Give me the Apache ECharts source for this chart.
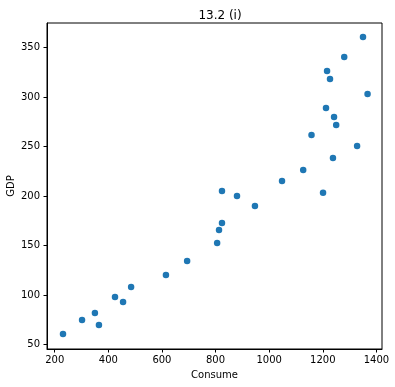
<!DOCTYPE html>
<html>
<head>
<meta charset="utf-8">
<script src="https://cdn.jsdelivr.net/npm/echarts@6/dist/echarts.min.js"></script>
<style>
html,body{margin:0;padding:0;background:#fff;}
#chart{width:395px;height:387px;}
</style>
</head>
<body>
<div id="chart"></div>
<script>
const consume = [231, 302, 350, 365, 425, 455, 485, 615, 694, 806, 813, 824, 824, 880, 947, 1048, 1127, 1201, 1158, 1238, 1328, 1212, 1242, 1250, 1216, 1227, 1280, 1350, 1367];
const gdp = [60.8, 74.9, 82.0, 69.9, 98.1, 93.1, 108.2, 120.3, 134.5, 152.6, 165.7, 172.8, 205.1, 200.1, 190.0, 215.2, 226.3, 203.4, 261.6, 238.4, 250.5, 288.8, 279.8, 271.7, 326.2, 318.1, 340.3, 360.5, 303.0];
const xTicks = [200, 400, 600, 800, 1000, 1200, 1400];
const yTicks = [50, 100, 150, 200, 250, 300, 350];
const titleText = '13.2 (i)';
const xName = 'Consume';
const yName = 'GDP';

const points = consume.map((c, i) => [c, gdp[i]]);
const font = 'DejaVu Sans';
const chart = echarts.init(document.getElementById('chart'), null, {renderer: 'canvas'});
chart.setOption({
  animation: false,
  title: {
    text: titleText,
    left: 215,
    textAlign: 'center',
    top: 5,
    textStyle: {fontFamily: font, fontSize: 12, fontWeight: 'normal', color: '#000'}
  },
  grid: {
    left: 47, right: 13, top: 23, bottom: 38,
    show: true, borderColor: '#000', borderWidth: 1,
    containLabel: false,
    outerBoundsMode: 'none'
  },
  xAxis: {
    type: 'value',
    min: 171.3, max: 1420.9,
    name: xName,
    nameLocation: 'middle',
    nameGap: 21,
    nameMoveOverlap: false,
    nameTextStyle: {fontFamily: font, fontSize: 10, color: '#000'},
    splitLine: {show: false},
    axisLine: {show: true, lineStyle: {color: '#000', width: 1}},
    axisTick: {show: true, length: 3.5, inside: false, customValues: xTicks, lineStyle: {color: '#000'}},
    axisLabel: {customValues: xTicks, margin: 6, fontFamily: font, fontSize: 10, color: '#000', formatter: v => String(v)}
  },
  yAxis: {
    type: 'value',
    min: 45.7, max: 374.6,
    name: yName,
    nameLocation: 'middle',
    nameRotate: 90,
    nameGap: 31,
    nameMoveOverlap: false,
    nameTextStyle: {fontFamily: font, fontSize: 10, color: '#000'},
    splitLine: {show: false},
    axisLine: {show: true, lineStyle: {color: '#000', width: 1}},
    axisTick: {show: true, length: 3.5, inside: false, customValues: yTicks, lineStyle: {color: '#000'}},
    axisLabel: {customValues: yTicks, margin: 7, fontFamily: font, fontSize: 10, color: '#000', formatter: v => String(v)}
  },
  series: [{
    type: 'scatter',
    data: points,
    symbol: 'circle',
    symbolSize: 6.5,
    itemStyle: {color: '#1f77b4', opacity: 1},
    emphasis: {disabled: true}
  }]
});
</script>
</body>
</html>
